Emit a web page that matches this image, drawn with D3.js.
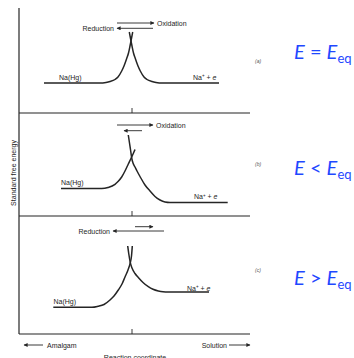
<!DOCTYPE html>
<html><head><meta charset="utf-8">
<script src="https://cdn.jsdelivr.net/npm/d3@7"></script>
<style>html,body{margin:0;padding:0;background:#fff;}svg{display:block;}</style>
</head><body>
<script>
// ---- data (reaction coordinate units, free-energy units) ----
const panelIds = ["a", "b", "c"];
const panelTags = ["(a)", "(b)", "(c)"];
const relations = ["=", "<", ">"];
const separatorsG = [221, 118, 0];           // panel floor energies
const tickCoord = 113;                        // activated-complex coordinate

const curveALeft  = [[25,251],[81,251],[87,251.6],[91,252.5],[96,254.5],[99,257],[102.7,263],[105,268],[107.7,275.5],[109.5,281],[111,288],[112,293],[113.7,302]];
const curveARight = [[110.3,302],[112,293],[113,288],[114.5,281],[116.3,275.5],[119,268],[121.3,263],[125,257],[128,254.5],[133,252.5],[137,251.6],[143,251],[200,251]];
const curveBLeft  = [[42,145.5],[82.7,145.5],[89,146.5],[96,149.7],[99,152.5],[102.7,157],[106,163],[109.3,170],[112.7,177],[114.5,181],[116,184.5]];
const curveBRight = [[109.3,199],[110.5,191],[111.7,183],[112.7,176],[114,171],[116,167],[118,163],[121,157.5],[126,149],[131,143],[136,137.5],[141,134],[146,132],[151,131.5],[208.7,131.5]];
const curveCLeft  = [[34.3,26.7],[73,26.7],[79,27.7],[85,29.5],[91,34],[95,38],[99.3,44],[103,50],[106,57],[109,64],[111.3,71.3],[112.5,78],[113.3,88]];
const curveCRight = [[108.7,88],[109.8,80],[111.3,71.3],[113,66],[116,60.5],[119.3,56.5],[124,51.5],[129.3,47.3],[134,44.7],[139.3,43],[144,42.2],[149,42],[190,42]];
const curves = [curveALeft, curveARight, curveBLeft, curveBRight, curveCLeft, curveCRight];

// arrows: [from, to, energy, label]
const arrows = [
  [98, 135, 311, "Oxidation"],
  [134, 98, 305.7, "Reduction"],
  [98, 134, 209, "Oxidation"],
  [123, 105, 203.3, ""],
  [145, 94, 103, "Reduction"],
  [116, 134, 107.3, ""]
];
// species labels: [coord, energy, text kind]
const speciesLabels = [
  [40, 254.5, "Na(Hg)"], [174, 254.5, "Na+"],
  [42, 149.5, "Na(Hg)"], [175, 135, "Na+"],
  [34.5, 30, "Na(Hg)"], [168, 43.5, "Na+"]
];
const axisTitleX = "Reaction coordinate";
const axisTitleY = "Standard free energy";
const leftDir = "Amalgam", rightDir = "Solution";

// ---- drawing ----
const W = 354, H = 358;
const svg = d3.select("body").append("svg").attr("width", W).attr("height", H)
  .style("font-family", "'Liberation Sans', Arial, sans-serif");
svg.append("rect").attr("width", W).attr("height", H).attr("fill", "#fff");

const x = d3.scaleLinear().domain([0, 231]).range([19, 250]);
const y = d3.scaleLinear().domain([0, 326]).range([334, 8]);
const ink = "#252525";

const defs = svg.append("defs");
defs.append("marker").attr("id", "ah").attr("viewBox", "0 0 10 10")
  .attr("refX", 9).attr("refY", 5).attr("markerWidth", 5).attr("markerHeight", 4)
  .attr("orient", "auto").attr("markerUnits", "userSpaceOnUse")
  .append("path").attr("d", "M0,0L10,5L0,10z").attr("fill", ink);

// vertical axis
svg.append("line").attr("x1", x(0)).attr("x2", x(0)).attr("y1", y(326)).attr("y2", y(0))
  .attr("stroke", ink).attr("stroke-width", 1.2);
// panel floors + ticks
separatorsG.forEach(v => {
  svg.append("line").attr("x1", x(0)).attr("x2", x(231)).attr("y1", y(v)).attr("y2", y(v))
    .attr("stroke", ink).attr("stroke-width", 1.2);
  svg.append("line").attr("x1", x(tickCoord)).attr("x2", x(tickCoord)).attr("y1", y(v)).attr("y2", y(v) - 5)
    .attr("stroke", ink).attr("stroke-width", 0.9);
});

// curves
const line = d3.line().x(d => x(d[0])).y(d => y(d[1])).curve(d3.curveMonotoneX);
svg.selectAll("path.curve").data(curves).join("path").attr("class", "curve")
  .attr("d", line).attr("fill", "none").attr("stroke", ink).attr("stroke-width", 1.5);

// arrows
arrows.forEach(a => {
  svg.append("line").attr("x1", x(a[0])).attr("x2", x(a[1])).attr("y1", y(a[2])).attr("y2", y(a[2]))
    .attr("stroke", ink).attr("stroke-width", 0.9).attr("marker-end", "url(#ah)");
  if (a[3]) {
    const right = a[1] > a[0];
    svg.append("text").attr("x", right ? x(a[1]) + 3 : x(a[1]) - 3).attr("y", y(a[2]) + 2.5)
      .attr("text-anchor", right ? "start" : "end").attr("font-size", 7).attr("fill", ink).text(a[3]);
  }
});

// species labels
speciesLabels.forEach(s => {
  const t = svg.append("text").attr("x", x(s[0])).attr("y", y(s[1])).attr("font-size", 7).attr("fill", ink);
  if (s[2] === "Na+") {
    t.append("tspan").text("Na");
    t.append("tspan").attr("font-size", 4.5).attr("dy", -2.5).text("+");
    t.append("tspan").attr("dy", 2.5).text(" + ");
    t.append("tspan").attr("font-style", "italic").text("e");
  } else t.text(s[2]);
});

// panel tags and condition labels
const panelTagY = [63, 165.5, 271.5];
const condY = [59, 174.5, 284.5];
panelIds.forEach((p, i) => {
  svg.append("text").attr("x", 255).attr("y", panelTagY[i]).attr("font-size", 5).attr("font-style", "italic")
    .attr("fill", "#555").text(panelTags[i]);
  const t = svg.append("text").attr("x", 294).attr("y", condY[i]).attr("font-size", 20)
    .attr("font-family", "Lato, 'Open Sans', sans-serif").attr("fill", "#1f48ff");
  t.append("tspan").attr("font-style", "italic").text("E");
  t.append("tspan").text(" " + relations[i] + " ");
  t.append("tspan").attr("font-style", "italic").text("E");
  t.append("tspan").attr("font-size", 13).attr("dy", 4.3).text("eq");
});

// axis titles and direction arrows
svg.append("text").attr("transform", "translate(16,173) rotate(-90)").attr("text-anchor", "middle")
  .attr("font-size", 7).attr("fill", ink).text(axisTitleY);
svg.append("text").attr("x", 135).attr("y", 360).attr("text-anchor", "middle")
  .attr("font-size", 7).attr("fill", ink).text(axisTitleX);
svg.append("line").attr("x1", 43).attr("x2", 24).attr("y1", 345).attr("y2", 345)
  .attr("stroke", ink).attr("stroke-width", 0.9).attr("marker-end", "url(#ah)");
svg.append("text").attr("x", 47).attr("y", 347.5).attr("font-size", 7).attr("fill", ink).text(leftDir);
svg.append("line").attr("x1", 229).attr("x2", 250).attr("y1", 345).attr("y2", 345)
  .attr("stroke", ink).attr("stroke-width", 0.9).attr("marker-end", "url(#ah)");
svg.append("text").attr("x", 227).attr("y", 347.5).attr("text-anchor", "end").attr("font-size", 7).attr("fill", ink).text(rightDir);
</script>
</body></html>
